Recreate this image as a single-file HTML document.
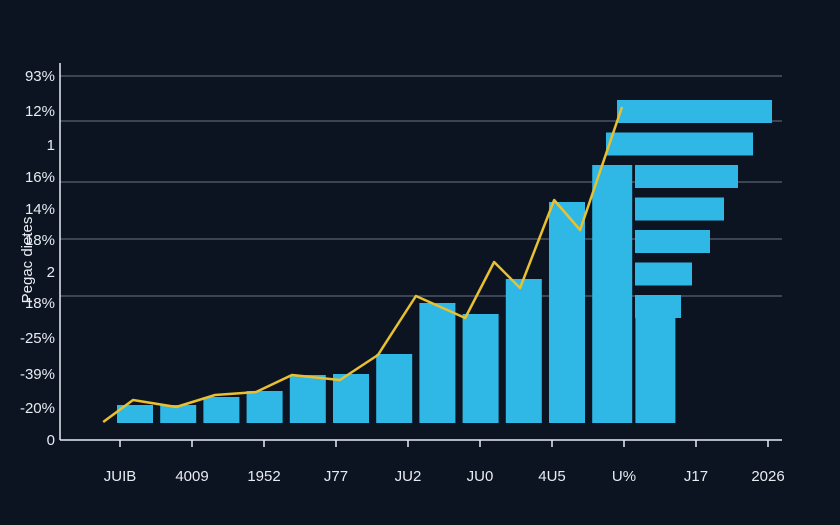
<!DOCTYPE html>
<html><head><meta charset="utf-8"><style>
html,body{margin:0;padding:0;background:#0c1422;}
svg{display:block;font-family:"Liberation Sans",sans-serif;}
</style></head><body>
<svg id="c" width="840" height="525" viewBox="0 0 840 525">
<rect width="840" height="525" fill="#0c1422"/>
<g id="grid"></g><g id="bars"></g><g id="hbars"></g><g id="line"></g><g id="axes"></g>
<text transform="translate(32,260) rotate(-90)" text-anchor="middle" fill="#e8ecf2" font-size="15">Pegac dietes</text>
</svg>
<script>
const yTickLabels=["93%","12%","1","16%","14%","18%","2","18%","-25%","-39%","-20%","0"];
const yTickPos=[364,329,295,263,231,200,168,137,102,66,32,0];
const gridVals=[364,319,258,201,144];
const xLabels=["JUIB","4009","1952","J77","JU2","JU0","4U5","U%","J17","2026"];
const xLabelVals=[0,1,2,3,4,5,6,7,8,9];
const barValues=[18,18,26,32,48,49,69,120,109,144,221,258,128];
const hbarValues=[155,147,103,89,75,57];
const lineX=[-0.32,0.37,1.37,2.27,3.22,4.05,5.16,6.04,6.92,8.06,8.73,9.33,10.12,10.72,11.69];
const lineValues=[1,23,16,28,31,48,43,68,127,105,161,135,223,193,316];

const NS="http://www.w3.org/2000/svg";
function mk(t,a,p){const e=document.createElementNS(NS,t);for(const k in a)e.setAttribute(k,a[k]);p.appendChild(e);return e;}
const yAxis=v=>440-v;
const yBar=v=>423-v;
const xBar=i=>117+i*43.2;
const barW=36;
const xLab=i=>120+i*72;
const g=id=>document.getElementById(id);

gridVals.forEach(v=>{const l=mk('line',{x1:60,x2:782,y1:yAxis(v),y2:yAxis(v),stroke:'#4a5566','stroke-width':1.5},g('grid'));

});

barValues.forEach((v,i)=>{const r=mk('rect',{x:xBar(i),y:yBar(v),width:(i>=11?40:barW),height:v,fill:'#2fb8e6'},g('bars'));

});

hbarValues.forEach((v,i)=>{const y=100+i*32.5;const x0=(i<2?617-i*11:635);
const r=mk('rect',{x:x0,y:y,width:v,height:23,fill:'#2fb8e6'},g('hbars'));

});
{const r=mk('rect',{x:635,y:295,width:46,height:23,fill:'#2fb8e6'},g('hbars'));

}

const pts=lineX.map((x,i)=>xBar(x)+','+yBar(lineValues[i])).join(' ');
const pl=mk('polyline',{points:pts,fill:'none',stroke:'#e8c030','stroke-width':2.5,'stroke-linejoin':'round'},g('line'));



const ax=g('axes');
const a1=mk('line',{x1:60,x2:60,y1:63,y2:440,stroke:'#e8ecf2','stroke-width':1.5},ax);


const a2=mk('line',{x1:60,x2:782,y1:440,y2:440,stroke:'#e8ecf2','stroke-width':1.5},ax);


yTickLabels.forEach((t,i)=>{const e=mk('text',{x:55,y:yAxis(yTickPos[i])+5,'text-anchor':'end',fill:'#e8ecf2','font-size':15},ax);e.textContent=t;

});
xLabels.forEach((t,i)=>{const x=xLab(xLabelVals[i]);
const tk=mk('line',{x1:x,x2:x,y1:440,y2:447,stroke:'#e8ecf2','stroke-width':1.5},ax);


const e=mk('text',{x:x,y:481,'text-anchor':'middle',fill:'#e8ecf2','font-size':15},ax);e.textContent=t;

});
</script>
</body></html>
